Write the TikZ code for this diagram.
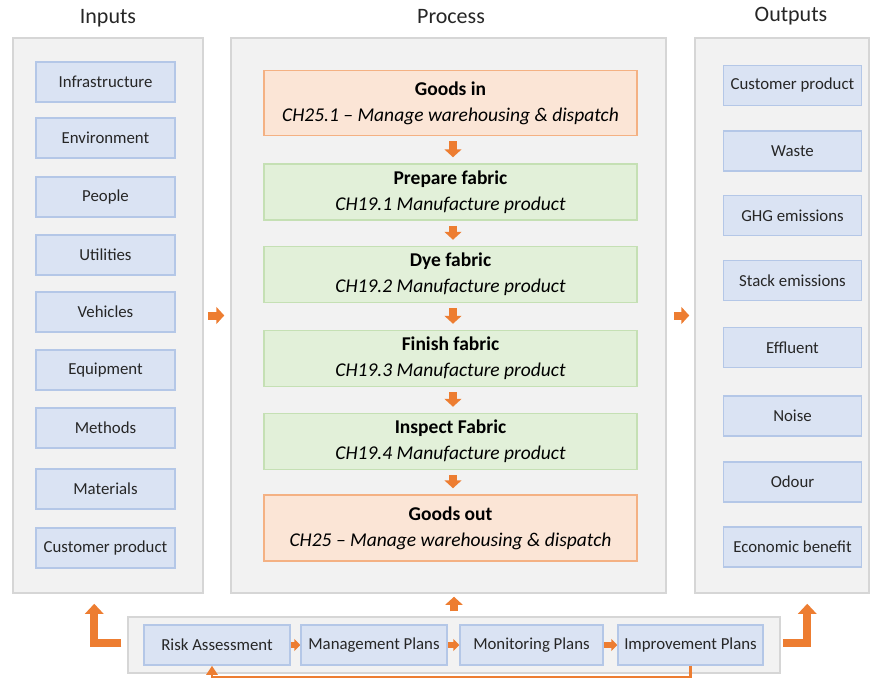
\documentclass[tikz,border=0pt]{standalone}
\usepackage{fontspec}
\setmainfont{Carlito}
\usetikzlibrary{arrows.meta}
\definecolor{orn}{HTML}{ED7D31}
\definecolor{panelfill}{HTML}{F2F2F2}
\definecolor{panelborder}{HTML}{D6D6D6}
\definecolor{bluefill}{HTML}{DAE3F3}
\definecolor{blueborder}{HTML}{B4C7E7}
\definecolor{greenfill}{HTML}{E2F0D9}
\definecolor{greenborder}{HTML}{C5E0B4}
\definecolor{orangefill}{HTML}{FBE5D6}
\definecolor{orangeborder}{HTML}{F4B183}
\begin{document}
\begin{tikzpicture}[x=1pt,y=-1pt,
  panel/.style={draw=panelborder, fill=panelfill, line width=1.5pt, inner sep=0pt},
  title/.style={font=\fontsize{22}{24}\selectfont, text=black!85},
  bbox/.style={draw=blueborder, fill=bluefill, line width=1.5pt, inner sep=0pt,
     minimum height=40pt, font=\fontsize{16.8}{18}\selectfont, text=black!85},
  pbox/.style={line width=1.5pt, inner sep=0pt, minimum width=373pt, align=center,
     font=\fontsize{19.5}{26}\selectfont, text=black},
  gbox/.style={pbox, draw=greenborder, fill=greenfill, minimum height=56pt},
  obox/.style={pbox, draw=orangeborder, fill=orangefill, minimum height=65pt},
  fat/.style={orn, line width=8pt, -{Triangle[width=17pt,length=8pt]}},
  small/.style={orn, line width=6pt, -{Triangle[width=12pt,length=6pt]}},
  thin/.style={orn, line width=2.5pt, -{Triangle[width=11pt,length=9pt]}}
]
\useasboundingbox (0,0) rectangle (871,680);

% titles
\node[title] (tin) at (108,18) {Inputs};
\node[title] (tpr) at (451,17) {Process};
\node[title] (tout) at (791,16) {Outputs};

% panels
\node[panel, minimum width=190pt, minimum height=555pt] (inputs) at (108,315.5) {};
\node[panel, minimum width=435pt, minimum height=555pt] (process) at (448.5,315.5) {};
\node[panel, minimum width=174pt, minimum height=555pt] (outputs) at (782,315.5) {};

% inputs
\begin{scope}[every node/.append style={bbox, minimum width=139pt}]
\node (i1) at (105.5,82) {Infrastructure};
\node (i2) at (105.5,138) {Environment};
\node (i3) at (105.5,197) {People};
\node (i4) at (105.5,255) {Utilities};
\node (i5) at (105.5,312) {Vehicles};
\node (i6) at (105.5,370) {Equipment};
\node (i7) at (105.5,428) {Methods};
\node (i8) at (105.5,489) {Materials};
\node (i9) at (105.5,548) {Customer product};
\end{scope}

% outputs
\begin{scope}[every node/.append style={bbox, minimum width=138pt}]
\node (o1) at (792.5,85.5) {Customer product};
\node (o2) at (792.5,151) {Waste};
\node (o3) at (792.5,215.5) {GHG emissions};
\node (o4) at (792.5,280.5) {Stack emissions};
\node (o5) at (792.5,347.5) {Effluent};
\node (o6) at (792.5,416) {Noise};
\node (o7) at (792.5,482) {Odour};
\node (o8) at (792.5,547) {Economic benefit};
\end{scope}

% process
\node[obox] (p1) at (450.5,103) {\textbf{Goods in}\\\textit{CH25.1 – Manage warehousing \& dispatch}};
\node[gbox] (p2) at (450.5,192) {\textbf{Prepare fabric}\\\textit{CH19.1 Manufacture product}};
\node[gbox] (p3) at (450.5,274.5) {\textbf{Dye fabric}\\\textit{CH19.2 Manufacture product}};
\node[gbox] (p4) at (450.5,358.5) {\textbf{Finish fabric}\\\textit{CH19.3 Manufacture product}};
\node[gbox] (p5) at (450.5,441.5) {\textbf{Inspect Fabric}\\\textit{CH19.4 Manufacture product}};
\node[obox, minimum height=66pt] (p6) at (450.5,528) {\textbf{Goods out}\\\textit{CH25 – Manage warehousing \& dispatch}};

\foreach \a/\b in {p1/p2,p2/p3,p3/p4,p4/p5,p5/p6}
  \draw[fat, shorten <=5pt, shorten >=6pt] ([xshift=2.5pt]\a.south) -- ([xshift=2.5pt]\b.north);

% panel arrows
\draw[fat, shorten <=4pt, shorten >=6pt] (inputs) -- (process);
\draw[fat, shorten <=7pt, shorten >=5pt] (process.east) -- (outputs.west);

% bottom frame
\node[panel, minimum width=652pt, minimum height=56pt] (frame) at (454,645) {};
\node[bbox, minimum width=146pt] (b1) at (217,645) {Risk Assessment};
\node[bbox, minimum width=146pt] (b2) at (374,645) {Management Plans};
\node[bbox, minimum width=143pt] (b3) at (531.5,645) {Monitoring Plans};
\node[bbox, minimum width=145pt] (b4) at (690.5,645) {Improvement Plans};

\foreach \a/\b in {b1/b2,b2/b3,b3/b4}
  \draw[small, shorten <=0.5pt, shorten >=0pt] (\a) -- (\b);

% up arrows
\draw[fat, shorten <=5pt, shorten >=3pt] (frame.north) -- (frame.north |- process.south);
\coordinate (lup) at ([xshift=82pt,yshift=-10pt]inputs.south west);
\coordinate (rup) at ([xshift=113pt,yshift=-10pt]outputs.south west);
\draw[fat, -{Triangle[width=18pt,length=10pt]}, shorten <=6pt] ([yshift=2pt]frame.west) -| (lup);
\draw[fat, -{Triangle[width=18pt,length=10pt]}, shorten <=2pt] ([yshift=2pt]frame.east) -| (rup);

% feedback
\coordinate (fb) at (0,677);
\draw[thin] (b4.south) -- (b4.south |- fb) -| ([xshift=-5pt]b1.south);
\end{tikzpicture}
\end{document}
